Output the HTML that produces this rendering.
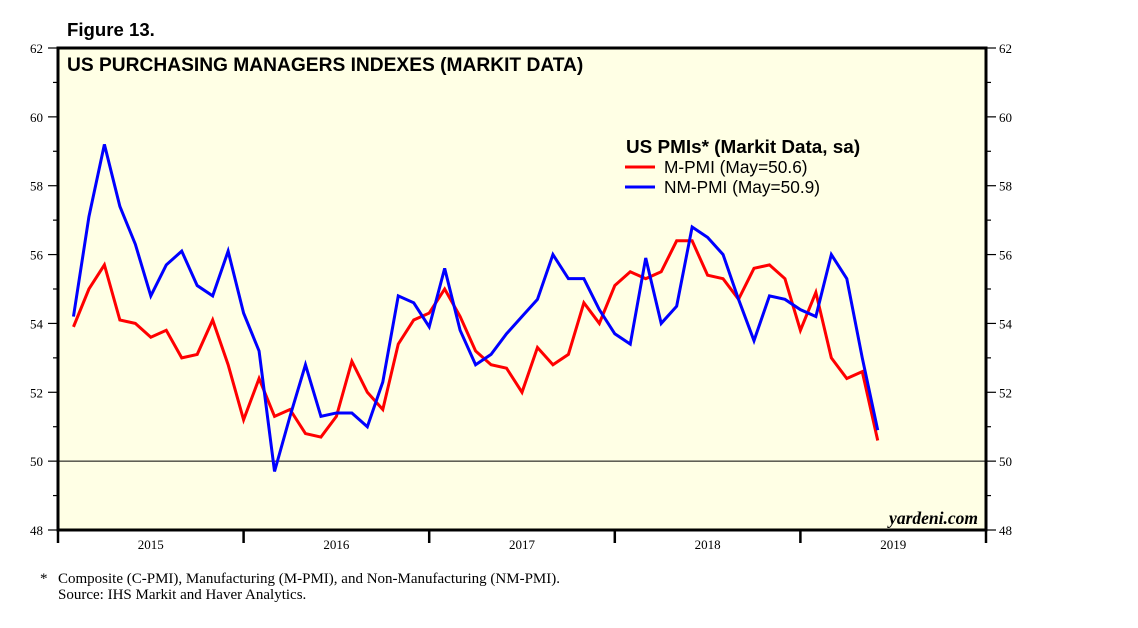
<!DOCTYPE html>
<html><head><meta charset="utf-8"><style>
body{margin:0;background:#fff;width:1138px;height:628px;overflow:hidden}
svg{display:block}
</style></head><body>
<svg id="chart" width="1138" height="628" xmlns="http://www.w3.org/2000/svg">
<text x="67" y="36" font-family="Liberation Sans, sans-serif" font-weight="bold" font-size="18.6">Figure 13.</text>
<rect x="58" y="48" width="928" height="482" fill="#FFFFE5"/>
<text x="67" y="71" font-family="Liberation Sans, sans-serif" font-weight="bold" font-size="19.2">US PURCHASING MANAGERS INDEXES (MARKIT DATA)</text>
<g id="grid"></g>
<g id="series"></g>
<rect x="58" y="48" width="928" height="482" fill="none" stroke="#000" stroke-width="3"/>
<g id="axes"></g>
<g font-family="Liberation Sans, sans-serif">
<text x="626" y="153" font-weight="bold" font-size="18.9">US PMIs* (Markit Data, sa)</text>
<line x1="625" y1="167" x2="655" y2="167" stroke="#f00" stroke-width="3"/>
<text x="664" y="173" font-size="17.3">M-PMI (May=50.6)</text>
<line x1="625" y1="187" x2="655" y2="187" stroke="#00f" stroke-width="3"/>
<text x="664" y="193" font-size="17.3">NM-PMI (May=50.9)</text>
</g>
<text x="978" y="524" text-anchor="end" font-family="Liberation Serif, serif" font-style="italic" font-weight="bold" font-size="17.5">yardeni.com</text>
<text x="40" y="583" font-family="Liberation Serif, serif" font-size="15">*</text>
<text x="58" y="583" font-family="Liberation Serif, serif" font-size="15">Composite (C-PMI), Manufacturing (M-PMI), and Non-Manufacturing (NM-PMI).</text>
<text x="58" y="599" font-family="Liberation Serif, serif" font-size="15">Source: IHS Markit and Haver Analytics.</text>
</svg>
<script>
const mpmi=[53.9,55.0,55.7,54.1,54.0,53.6,53.8,53.0,53.1,54.1,52.8,51.2,52.4,51.3,51.5,50.8,50.7,51.3,52.9,52.0,51.5,53.4,54.1,54.3,55.0,54.2,53.2,52.8,52.7,52.0,53.3,52.8,53.1,54.6,54.0,55.1,55.5,55.3,55.5,56.4,56.4,55.4,55.3,54.7,55.6,55.7,55.3,53.8,54.9,53.0,52.4,52.6,50.6];
const nmpmi=[54.2,57.1,59.2,57.4,56.3,54.8,55.7,56.1,55.1,54.8,56.1,54.3,53.2,49.7,51.3,52.8,51.3,51.4,51.4,51.0,52.3,54.8,54.6,53.9,55.6,53.8,52.8,53.1,53.7,54.2,54.7,56.0,55.3,55.3,54.4,53.7,53.4,55.9,54.0,54.5,56.8,56.5,56.0,54.7,53.5,54.8,54.7,54.4,54.2,56.0,55.3,53.0,50.9];
const yTicks=[48,50,52,54,56,58,60,62];
const years=["2015","2016","2017","2018","2019"];
const NS="http://www.w3.org/2000/svg";
const X0=58,MW=(986-58)/60,Y0=530,YS=482/14;
const xs=i=>X0+(i+1)*MW;
const ys=v=>Y0-(v-48)*YS;
function mk(t,a,p){const e=document.createElementNS(NS,t);for(const k in a)e.setAttribute(k,a[k]);p.appendChild(e);return e;}
const ax=document.getElementById('axes'),gr=document.getElementById('grid'),se=document.getElementById('series');
const ref=mk('line',{x1:X0,x2:986,y1:ys(50),y2:ys(50),stroke:'#000','stroke-width':1},gr);


for(let v=48;v<=62;v++){const y=ys(v);const maj=v%2===0;
 const l=mk('line',{x1:X0-(maj?10:5),x2:X0,y1:y,y2:y,stroke:'#000','stroke-width':1.2},ax);
 
 
 const r=mk('line',{x1:986,x2:986+(maj?10:5),y1:y,y2:y,stroke:'#000','stroke-width':1.2},ax);
 
 }
yTicks.forEach(v=>{const y=ys(v)+5;
 const a=mk('text',{x:43,y:y,'text-anchor':'end','font-family':'Liberation Serif, serif','font-size':13},ax);a.textContent=v;
 
 
 const b=mk('text',{x:999,y:y,'font-family':'Liberation Serif, serif','font-size':13},ax);b.textContent=v;
 
 });
for(let k=0;k<=5;k++){const x=X0+k*12*MW;
 const t=mk('line',{x1:x,x2:x,y1:Y0,y2:Y0+13,stroke:'#000','stroke-width':2.5},ax);
 
 }
years.forEach((yr,k)=>{const t=mk('text',{x:X0+(k*12+6)*MW,y:549,'text-anchor':'middle','font-family':'Liberation Serif, serif','font-size':13},ax);t.textContent=yr;
 
 });
function line(d,c,n){const p=mk('polyline',{points:d.map((v,i)=>xs(i)+','+ys(v)).join(' '),fill:'none',stroke:c,'stroke-width':3,'stroke-linejoin':'miter'},se);
 
 }
line(mpmi,'#f00','m-pmi-line');
line(nmpmi,'#00f','nm-pmi-line');
</script>
</body></html>
